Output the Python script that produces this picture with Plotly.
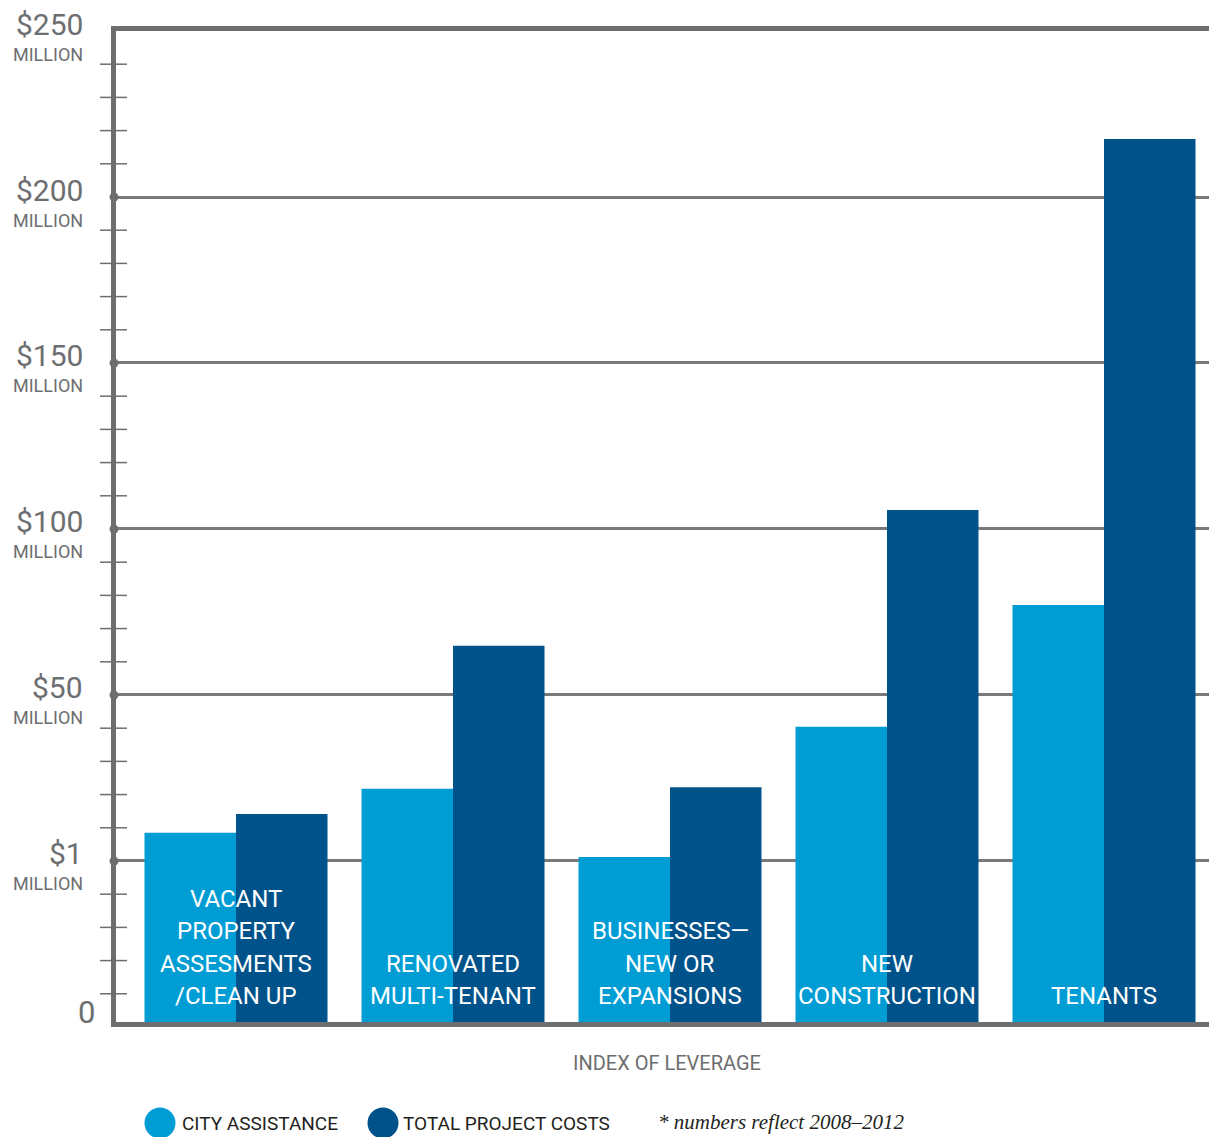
import plotly.graph_objects as go

# ---------------- data (values in $ millions) ----------------
categories = ["Vacant property", "Renovated multi-tenant", "Businesses", "New construction", "Tenants"]
category_lines = [
    ["VACANT", "PROPERTY", "ASSESMENTS", "/CLEAN UP"],
    ["RENOVATED", "MULTI-TENANT"],
    ["BUSINESSES\u2014", "NEW OR", "EXPANSIONS"],
    ["NEW", "CONSTRUCTION"],
    ["TENANTS"],
]
city_assistance = [9.3, 22.3, 2.2, 40.6, 77.1]
total_project_costs = [14.9, 64.8, 22.8, 105.7, 217.5]

tick_values_m = [0, 1, 50, 100, 150, 200, 250]
tick_dollars = ["0", "$1", "$50", "$100", "$150", "$200", "$250"]

series_names = ["CITY ASSISTANCE", "TOTAL PROJECT COSTS"]
footnote = "* numbers reflect 2008\u20132012"
x_title = "INDEX OF LEVERAGE"

# ---------------- styles ----------------
LIGHT = "#009dd5"
DARK = "#00538a"
GRAY = "#6d6e70"
GRID = "#78797b"
INK = "#231f20"
COND = "Roboto, sans-serif"

W, H = 1209, 1137
ML, MT, MB = 116, 31, 115
PW = W - ML
PH = H - MT - MB

FIRST_SEG = 48.5  # axis units used by the 0 -> $1M segment (slightly shorter than a $50M step)


# The original chart uses a broken value axis: 0 -> $1M, then evenly spaced $50M steps.
def axis_pos(v):
    if v <= 1:
        return v * FIRST_SEG
    if v <= 50:
        return FIRST_SEG + (v - 1) * 50.0 / 49.0
    return v + FIRST_SEG


def px_x(p):
    return (p - ML) / PW


def px_y(p):
    return (H - MB - p) / PH


fig = go.Figure()
fig.add_trace(go.Bar(x=categories, y=[axis_pos(v) for v in city_assistance],
                     name=series_names[0], marker=dict(color=LIGHT, line=dict(width=0)),
                     hoverinfo="skip"))
fig.add_trace(go.Bar(x=categories, y=[axis_pos(v) for v in total_project_costs],
                     name=series_names[1], marker=dict(color=DARK, line=dict(width=0)),
                     hoverinfo="skip"))

annotations = []
shapes = []

grid_pos = [axis_pos(v) for v in tick_values_m]
top_pos = grid_pos[-1]

# y labels
for v, lab in zip(tick_values_m, tick_dollars):
    p = axis_pos(v)
    if v == 0:
        annotations.append(dict(x=px_x(97), xref="paper", y=p, yref="y", text=lab,
                                xanchor="right", yanchor="middle", yshift=10, showarrow=False,
                                font=dict(family=COND, size=31, color=GRAY)))
        continue
    annotations.append(dict(x=px_x(85), xref="paper", y=p, yref="y", text=lab,
                            xanchor="right", yanchor="middle", yshift=7, showarrow=False,
                            font=dict(family=COND, size=30, color=GRAY)))
    annotations.append(dict(x=px_x(85), xref="paper", y=p, yref="y", text="MILLION",
                            xanchor="right", yanchor="middle", yshift=-23, showarrow=False,
                            font=dict(family=COND, size=18, color=GRAY)))

# minor ticks crossing the axis: four below each labelled gridline, 10 units apart
for g in grid_pos[1:]:
    for k in range(1, 5):
        m = g - 10 * k
        shapes.append(dict(type="line", xref="paper", yref="y", x0=px_x(100), x1=px_x(127),
                           y0=m, y1=m, line=dict(color=GRAY, width=1.5), layer="above"))

# dots on major gridlines
for p in grid_pos[1:-1]:
    shapes.append(dict(type="circle", xref="paper", yref="y", xsizemode="pixel", ysizemode="pixel",
                       xanchor=px_x(114), yanchor=p, x0=-4.5, x1=4.5, y0=-4.5, y1=4.5,
                       fillcolor=GRAY, line=dict(width=0), layer="above"))

# category labels inside bars
for cat, lines in zip(categories, category_lines):
    n = len(lines)
    for i, line in enumerate(lines):
        k = n - 1 - i
        annotations.append(dict(x=cat, xref="x", y=0, yref="y", text=line,
                                xanchor="center", yanchor="middle", yshift=26 + 32.5 * k,
                                showarrow=False, font=dict(family=COND, size=24, color="white")))

# x title
annotations.append(dict(x=px_x(667), xref="paper", y=px_y(1063), yref="paper", text=x_title,
                        xanchor="center", yanchor="middle", showarrow=False,
                        font=dict(family=COND, size=20, color=GRAY)))

# legend
for cx, tx, col, name in [(160, 180, LIGHT, series_names[0]), (383, 401, DARK, series_names[1])]:
    shapes.append(dict(type="circle", xref="paper", yref="paper", xsizemode="pixel", ysizemode="pixel",
                       xanchor=px_x(cx), yanchor=px_y(1123), x0=-15.5, x1=15.5, y0=-15.5, y1=15.5,
                       fillcolor=col, line=dict(width=0)))
    annotations.append(dict(x=px_x(tx), xref="paper", y=px_y(1123), yref="paper", text=name,
                            xanchor="left", yanchor="middle", showarrow=False,
                            font=dict(family="Roboto, Lato, sans-serif", size=19, color=INK)))
annotations.append(dict(x=px_x(656), xref="paper", y=px_y(1122), yref="paper", text=footnote,
                        xanchor="left", yanchor="middle", showarrow=False,
                        font=dict(family="Liberation Serif, DejaVu Serif, serif", size=21,
                                  color=INK, style="italic")))

x_range = [-(236 - ML) / 217.0, (W - 236) / 217.0]

fig.update_layout(
    width=W, height=H,
    margin=dict(l=ML, r=0, t=MT, b=MB, pad=0),
    paper_bgcolor="white", plot_bgcolor="white",
    barmode="group", bargap=34 / 217.0, bargroupgap=0,
    showlegend=False,
    annotations=annotations, shapes=shapes,
    xaxis=dict(range=x_range, showticklabels=False, ticks="", showgrid=False, zeroline=False,
               showline=True, linecolor=GRAY, linewidth=5, mirror=True, fixedrange=True),
    yaxis=dict(range=[0, top_pos], tickvals=grid_pos[1:-1], showticklabels=False, ticks="",
               showgrid=True, gridcolor=GRID, gridwidth=3, zeroline=False,
               showline=True, linecolor=GRAY, linewidth=5, mirror=False, fixedrange=True),
)

fig.write_html("out.html")
